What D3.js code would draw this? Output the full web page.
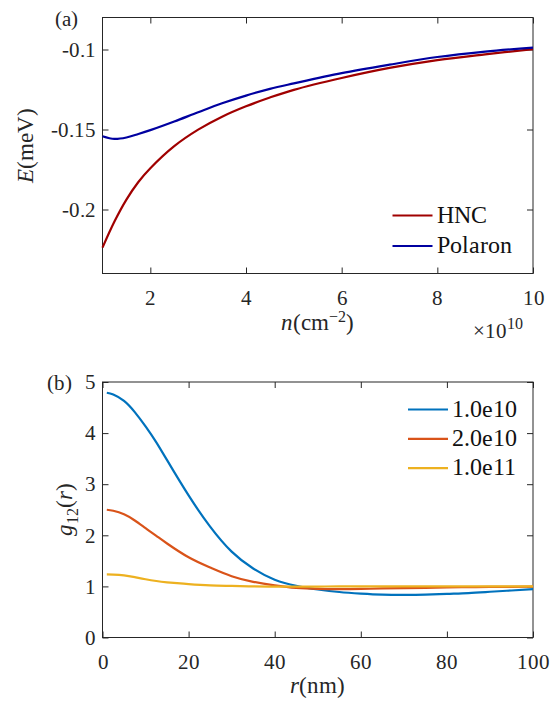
<!DOCTYPE html>
<html>
<head>
<meta charset="utf-8" />
<title>E(n) and g12(r)</title>
<script src="https://d3js.org/d3.v7.min.js"></script>
<style>
  @font-face { font-family: "PlotSerif"; src: local("Liberation Serif"), local("LiberationSerif-Regular"), local("Liberation Serif Regular"), local("DejaVu Serif"), local("DejaVuSerif"); font-style: normal; }
  @font-face { font-family: "PlotSerif"; src: local("Liberation Serif Italic"), local("LiberationSerif-Italic"), local("DejaVu Serif Italic"), local("DejaVuSerif-Italic"); font-style: italic; }
  body { margin: 0; background: #fff; }
  .tick line { stroke: #262626; }
  .domain { stroke: none; }
</style>
</head>
<body>
<div id="chart"></div>
<script>

// ---- panel (a): E vs n ----
var nVals       = [1, 1.25, 1.5, 1.75, 2, 2.5, 3, 3.5, 4, 4.5, 5, 6, 7, 8, 9, 10];
var hncVals     = [-0.2238, -0.2075, -0.1938, -0.1828, -0.1742, -0.1604, -0.1501, -0.1420, -0.1355, -0.1300, -0.1252, -0.1178, -0.1115, -0.1066, -0.1030, -0.0998];
var polaronVals = [-0.1542, -0.1559, -0.1550, -0.1528, -0.1504, -0.1450, -0.1392, -0.1336, -0.1288, -0.1246, -0.1212, -0.1148, -0.1095, -0.1047, -0.1013, -0.0988];
var topNames    = ["HNC", "Polaron"];
var topColors   = ["#a00000", "#0000a0"];
var topXTicks   = [2, 4, 6, 8, 10];
var topYTicks   = [-0.2, -0.15, -0.1];

// ---- panel (b): g12 vs r ----
var rVals  = [1, 2.5, 5, 7.5, 10, 12.5, 15, 20, 25, 30, 35, 40, 45, 50, 55, 60, 65, 70, 75, 80, 85, 90, 95, 100];
var g1e10  = [4.79, 4.755, 4.63, 4.41, 4.13, 3.82, 3.47, 2.78, 2.17, 1.68, 1.35, 1.13, 1.01, 0.94, 0.89, 0.86, 0.84, 0.835, 0.84, 0.855, 0.87, 0.895, 0.92, 0.945];
var g2e10  = [2.50, 2.48, 2.41, 2.29, 2.14, 1.99, 1.84, 1.57, 1.37, 1.20, 1.09, 1.02, 0.97, 0.95, 0.945, 0.95, 0.96, 0.965, 0.97, 0.98, 0.985, 0.99, 0.99, 0.995];
var g1e11  = [1.235, 1.232, 1.215, 1.18, 1.14, 1.105, 1.08, 1.045, 1.02, 1.01, 1.0, 0.995, 0.995, 0.997, 1.0, 1.0, 1.0, 1.0, 1.0, 1.0, 1.0, 1.0, 1.0, 1.0];
var botNames  = ["1.0e10", "2.0e10", "1.0e11"];
var botColors = ["#0072bd", "#d95319", "#edb120"];
var botXTicks = [0, 20, 40, 60, 80, 100];
var botYTicks = [0, 1, 2, 3, 4, 5];

var serif = "PlotSerif, Liberation Serif, Times New Roman, DejaVu Serif, serif";

var svg = d3.select("#chart")
  .append("svg")
    .attr("width", 553)
    .attr("height", 705)
    .attr("font-family", serif);

var left = 102.5, right = 533;

// draws box, inward ticks on all four sides and tick labels
function drawAxes(x, y, xTicks, yTicks, yFmt) {
  var top = y.range()[1], bottom = y.range()[0];

  svg.append("g")
    .attr("transform", "translate(0," + bottom + ")")
    .call(d3.axisBottom(x).tickValues(xTicks).tickSize(-6).tickSizeOuter(0).tickFormat(function(d) { return d; }))
    .attr("font-family", serif)
    .attr("font-size", 21)
    .selectAll("text")
      .attr("y", 31).attr("dy", 0);

  svg.append("g")
    .attr("transform", "translate(0," + top + ")")
    .call(d3.axisTop(x).tickValues(xTicks).tickSize(-6).tickSizeOuter(0).tickFormat(""));

  svg.append("g")
    .attr("transform", "translate(" + left + ",0)")
    .call(d3.axisLeft(y).tickValues(yTicks).tickSize(-6).tickSizeOuter(0).tickPadding(7).tickFormat(yFmt))
    .attr("font-family", serif)
    .attr("font-size", 21);

  svg.append("g")
    .attr("transform", "translate(" + right + ",0)")
    .call(d3.axisRight(y).tickValues(yTicks).tickSize(-6).tickSizeOuter(0).tickFormat(""));

  svg.selectAll("g.tick text").attr("fill", "#262626");

  svg.append("rect")
    .attr("x", left)
    .attr("y", top)
    .attr("width", right - left)
    .attr("height", bottom - top)
    .style("fill", "none")
    .style("stroke", "#262626")
    .style("stroke-width", 1);
}

function drawLegend(names, colors, x0, y0, step) {
  var items = svg.append("g")
    .selectAll("g")
    .data(names)
    .enter().append("g")
      .attr("transform", function(d, i) { return "translate(" + x0 + "," + (y0 + i * step) + ")"; });
  items.append("line")
    .attr("x1", 0).attr("x2", 40)
    .attr("y1", 0).attr("y2", 0)
    .style("stroke", function(d, i) { return colors[i]; })
    .style("stroke-width", 2.2);
  items.append("text")
    .attr("x", 44)
    .attr("y", 7)
    .attr("font-size", 24)
    .attr("fill", "#111")
    .text(function(d) { return d; });
}

// ---------------- panel (a) ----------------
var xa = d3.scaleLinear().domain([1, 10]).range([left, right]);
var ya = d3.scaleLinear().domain([-0.24, -0.08]).range([273.5, 17.5]);

drawAxes(xa, ya, topXTicks, topYTicks, function(d) { return String(d); });

var lineA = d3.line()
  .x(function(d) { return xa(d[0]); })
  .y(function(d) { return ya(d[1]); })
  .curve(d3.curveCatmullRom.alpha(0.5));

[hncVals, polaronVals].forEach(function(vals, i) {
  svg.append("path")
    .datum(nVals.map(function(n, j) { return [n, vals[j]]; }))
    .attr("d", lineA)
    .style("fill", "none")
    .style("stroke", topColors[i])
    .style("stroke-width", 2.2);
});

drawLegend(topNames, topColors, 392.5, 215.5, 30.5);

svg.append("text")
  .attr("x", 55).attr("y", 26)
  .attr("font-size", 21)
  .attr("fill", "#262626")
  .text("(a)");

// x label n(cm^-2)
var xla = svg.append("text")
  .attr("x", 317).attr("y", 330)
  .attr("text-anchor", "middle")
  .attr("fill", "#262626")
  .attr("font-size", 23);
xla.append("tspan").attr("font-style", "italic").text("n");
xla.append("tspan").text("(cm");
xla.append("tspan").attr("dy", -8).attr("font-size", 16).text("\u22122");
xla.append("tspan").attr("dy", 8).text(")");

// exponent label
var expo = svg.append("text")
  .attr("x", 473).attr("y", 338)
  .attr("fill", "#262626")
  .attr("font-size", 21);
expo.append("tspan").text("\u00d710");
expo.append("tspan").attr("dy", -9).attr("font-size", 16).text("10");

// y label E(meV)
var yla = svg.append("text")
  .attr("transform", "translate(33," + ((17.5 + 273.5) / 2) + ") rotate(-90)")
  .attr("text-anchor", "middle")
  .attr("fill", "#262626")
  .attr("font-size", 23);
yla.append("tspan").attr("font-style", "italic").text("E");
yla.append("tspan").text("(meV)");

// ---------------- panel (b) ----------------
var xb = d3.scaleLinear().domain([0, 100]).range([left, right]);
var yb = d3.scaleLinear().domain([0, 5]).range([637.5, 382]);

drawAxes(xb, yb, botXTicks, botYTicks, function(d) { return d; });

var lineB = d3.line()
  .x(function(d) { return xb(d[0]); })
  .y(function(d) { return yb(d[1]); })
  .curve(d3.curveNatural);

[g1e10, g2e10, g1e11].forEach(function(vals, i) {
  svg.append("path")
    .datum(rVals.map(function(r, j) { return [r, vals[j]]; }))
    .attr("d", lineB)
    .style("fill", "none")
    .style("stroke", botColors[i])
    .style("stroke-width", 2.2);
});

drawLegend(botNames, botColors, 408, 409.5, 29.3);

svg.append("text")
  .attr("x", 46.5).attr("y", 390)
  .attr("font-size", 21)
  .attr("fill", "#262626")
  .text("(b)");

// x label r(nm)
var xlb = svg.append("text")
  .attr("x", 317).attr("y", 693)
  .attr("text-anchor", "middle")
  .attr("fill", "#262626")
  .attr("font-size", 23);
xlb.append("tspan").attr("font-style", "italic").text("r");
xlb.append("tspan").text("(nm)");

// y label g12(r)
var ylb = svg.append("text")
  .attr("transform", "translate(72," + ((382 + 637.5) / 2) + ") rotate(-90)")
  .attr("text-anchor", "middle")
  .attr("fill", "#262626")
  .attr("font-size", 23);
ylb.append("tspan").attr("font-style", "italic").text("g");
ylb.append("tspan").attr("dy", 6).attr("font-size", 16).text("12");
ylb.append("tspan").attr("dy", -6).text("(");
ylb.append("tspan").attr("font-style", "italic").text("r");
ylb.append("tspan").text(")");

</script>
</body>
</html>
